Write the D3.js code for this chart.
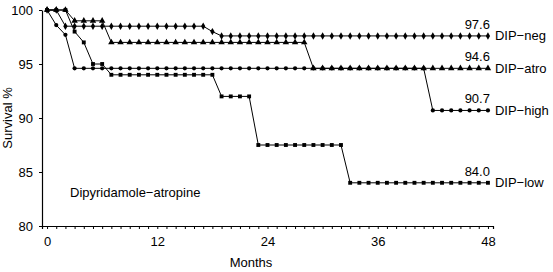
<!DOCTYPE html>
<html>
<head>
<meta charset="utf-8">
<script src="https://cdn.jsdelivr.net/npm/d3@7"></script>
<style>
  body { margin: 0; background: #fff; }
  svg { display: block; font-family: 'Liberation Sans', Arial, sans-serif; }
  .axis path, .axis line { stroke: #000; }
  .axis text { font-size: 13px; fill: #000; font-family: 'Liberation Sans', Arial, sans-serif; }
</style>
</head>
<body>
<svg width="553" height="272"></svg>
<script>
'use strict';
const svg = d3.select('svg');
const svg_width = +svg.attr('width');
const svg_height = +svg.attr('height');

const margin = {top: 10, right: 60, bottom: 46, left: 42};
const chart_width = svg_width - margin.left - margin.right;
const chart_height = svg_height - margin.top - margin.bottom;
const chart_g = svg.append('g').attr('transform', `translate(${margin.left}, ${margin.top})`);

// months 0..48
const months = d3.range(0, 49);
const month_ticks = [0, 12, 24, 36, 48];
const survival_ticks = [80, 85, 90, 95, 100];

const dip_neg = [100, 100, 98.5, 98.5, 98.5, 98.5, 98.5, 98.5, 98.5, 98.5, 98.5, 98.5, 98.5,
  98.5, 98.5, 98.5, 98.5, 98.5, 98.0, 97.6, 97.6, 97.6, 97.6, 97.6, 97.6,
  97.6, 97.6, 97.6, 97.6, 97.6, 97.6, 97.6, 97.6, 97.6, 97.6, 97.6, 97.6,
  97.6, 97.6, 97.6, 97.6, 97.6, 97.6, 97.6, 97.6, 97.6, 97.6, 97.6, 97.6];
const dip_atro = [100, 100, 100, 99.0, 99.0, 99.0, 99.0, 97.0, 97.0, 97.0, 97.0, 97.0, 97.0,
  97.0, 97.0, 97.0, 97.0, 97.0, 97.0, 97.0, 97.0, 97.0, 97.0, 97.0, 97.0,
  97.0, 97.0, 97.0, 97.0, 94.6, 94.6, 94.6, 94.6, 94.6, 94.6, 94.6, 94.6,
  94.6, 94.6, 94.6, 94.6, 94.6, 94.6, 94.6, 94.6, 94.6, 94.6, 94.6, 94.6];
const dip_high = [100, 98.6, 97.7, 94.6, 94.6, 94.6, 94.6, 94.6, 94.6, 94.6, 94.6, 94.6, 94.6,
  94.6, 94.6, 94.6, 94.6, 94.6, 94.6, 94.6, 94.6, 94.6, 94.6, 94.6, 94.6,
  94.6, 94.6, 94.6, 94.6, 94.6, 94.6, 94.6, 94.6, 94.6, 94.6, 94.6, 94.6,
  94.6, 94.6, 94.6, 94.6, 94.6, 90.7, 90.7, 90.7, 90.7, 90.7, 90.7, 90.7];
const dip_low = [100, 100, 100, 98.0, 97.0, 95.0, 95.0, 94.0, 94.0, 94.0, 94.0, 94.0, 94.0,
  94.0, 94.0, 94.0, 94.0, 94.0, 94.0, 92.0, 92.0, 92.0, 92.0, 87.5, 87.5,
  87.5, 87.5, 87.5, 87.5, 87.5, 87.5, 87.5, 87.5, 84.0, 84.0, 84.0, 84.0,
  84.0, 84.0, 84.0, 84.0, 84.0, 84.0, 84.0, 84.0, 84.0, 84.0, 84.0, 84.0];

const series_names = ['DIP\u2212neg', 'DIP\u2212atro', 'DIP\u2212high', 'DIP\u2212low'];
const series_values = [dip_neg, dip_atro, dip_high, dip_low];
const end_labels = ['97.6', '94.6', '90.7', '84.0'];
const series_symbols = [d3.symbolDiamond, d3.symbolTriangle, d3.symbolCircle, d3.symbolSquare];
const symbol_sizes = [16, 18, 14, 15];

//scales
const x_scale = d3.scaleLinear()
  .domain([-0.55, 48.55])
  .range([0, chart_width]);
const y_scale = d3.scaleLinear()
  .domain([80, 100])
  .range([chart_height, 0]);

//axes
chart_g.append('g')
  .attr('class', 'axis')
  .attr('transform', `translate(0,${chart_height})`)
  .call(d3.axisBottom(x_scale)
    .tickValues(months)
    .tickSize(3)
    .tickSizeOuter(3)
    .tickPadding(8)
    .tickFormat(d => month_ticks.includes(d) ? d : ''));

chart_g.append('g')
  .attr('class', 'axis')
  .call(d3.axisLeft(y_scale)
    .tickValues(survival_ticks)
    .tickSize(3)
    .tickSizeOuter(0)
    .tickPadding(6));

chart_g.selectAll('.axis path').attr('stroke-width', 1.2);

//lines and markers
const line = d3.line()
  .x((d, i) => x_scale(months[i]))
  .y(d => y_scale(d));

const series_g = chart_g.selectAll('.series')
  .data(series_values)
  .enter()
  .append('g')
  .attr('class', 'series');

series_g.append('path')
  .attr('d', d => line(d))
  .attr('fill', 'none')
  .attr('stroke', '#000')
  .attr('stroke-width', 1);

series_g.each(function(vals, si) {
  d3.select(this).selectAll('path.mark')
    .data(vals)
    .enter()
    .append('path')
    .attr('class', 'mark')
    .attr('transform', (d, i) => `translate(${x_scale(months[i])},${y_scale(d)})`)
    .attr('d', d3.symbol().type(series_symbols[si]).size(symbol_sizes[si]))
    .attr('fill', '#000');
});

//end labels
const last = months.length - 1;
series_g.append('text')
  .attr('x', x_scale(months[last]) + 2)
  .attr('y', d => y_scale(d[last]) - 7)
  .attr('text-anchor', 'end')
  .attr('font-size', 13)
  .text((d, i) => end_labels[i]);

series_g.append('text')
  .attr('x', x_scale(months[last]) + 7)
  .attr('y', d => y_scale(d[last]))
  .attr('dy', '0.35em')
  .attr('font-size', 13)
  .text((d, i) => series_names[i]);

//annotation
chart_g.append('text')
  .attr('x', x_scale(2.5))
  .attr('y', y_scale(82.7))
  .attr('font-size', 13)
  .text('Dipyridamole\u2212atropine');

//axis titles
svg.append('text')
  .attr('x', 251)
  .attr('y', 267)
  .attr('text-anchor', 'middle')
  .attr('font-size', 13)
  .text('Months');

svg.append('text')
  .attr('transform', `translate(11.5,${margin.top + chart_height / 2}) rotate(-90)`)
  .attr('text-anchor', 'middle')
  .attr('font-size', 13)
  .text('Survival %');
</script>
</body>
</html>
